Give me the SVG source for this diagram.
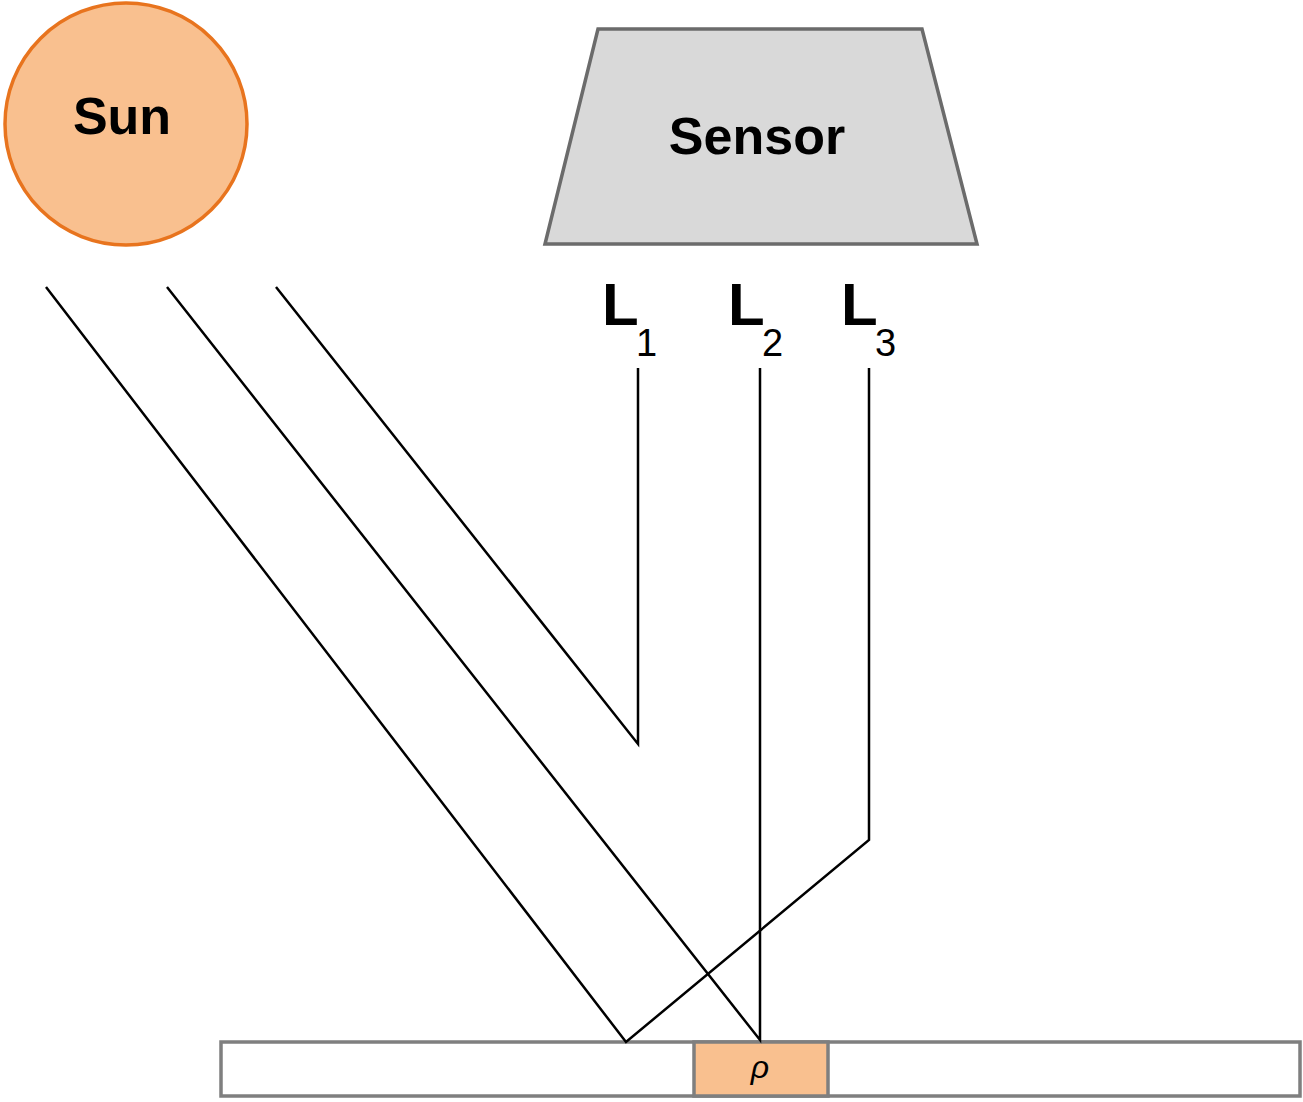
<svg xmlns="http://www.w3.org/2000/svg" width="1303" height="1102" viewBox="0 0 1303 1102">
<style>
.ray{fill:none;stroke:#000;stroke-width:2.5}
.t{font-family:"Liberation Sans",Arial,sans-serif;fill:#000}
</style>
<rect width="1303" height="1102" fill="#fff"/>
<g id="sun"><circle cx="126" cy="124" r="121" fill="#f9c08f" stroke="#e8741e" stroke-width="3.5"/>
<text class="t" x="122" y="134" font-size="52" text-anchor="middle" font-weight="bold">Sun</text></g>
<g id="sensor"><polygon points="598,29 922,29 977,244 545,244" fill="#d9d9d9" stroke="#6b6b6b" stroke-width="3.5"/>
<text class="t" x="757" y="154" font-size="52" text-anchor="middle" font-weight="bold">Sensor</text></g>
<g id="labels" class="t" font-weight="bold">
<text x="602" y="325" font-size="60">L</text><text x="636" y="356" font-size="38" font-weight="normal">1</text>
<text x="728" y="325" font-size="60">L</text><text x="762" y="356" font-size="38" font-weight="normal">2</text>
<text x="841" y="325" font-size="60">L</text><text x="875" y="356" font-size="38" font-weight="normal">3</text>
</g>
<g id="ground"><rect x="221" y="1042" width="1079" height="54" fill="#fff" stroke="#7f7f7f" stroke-width="3.5"/>
<rect x="694" y="1042" width="134" height="54" fill="#f9c08f" stroke="#7f7f7f" stroke-width="3.5"/>
<text class="t" x="760" y="1078" font-size="32" font-style="italic" text-anchor="middle">ρ</text></g>
<g id="connectors">
<polyline class="ray" points="46,287 626,1042 869,840 869,368"/>
<polyline class="ray" points="167,287 760,1040 760,368"/>
<polyline class="ray" points="276,287 638,744 638,368"/>
</g>
</svg>
